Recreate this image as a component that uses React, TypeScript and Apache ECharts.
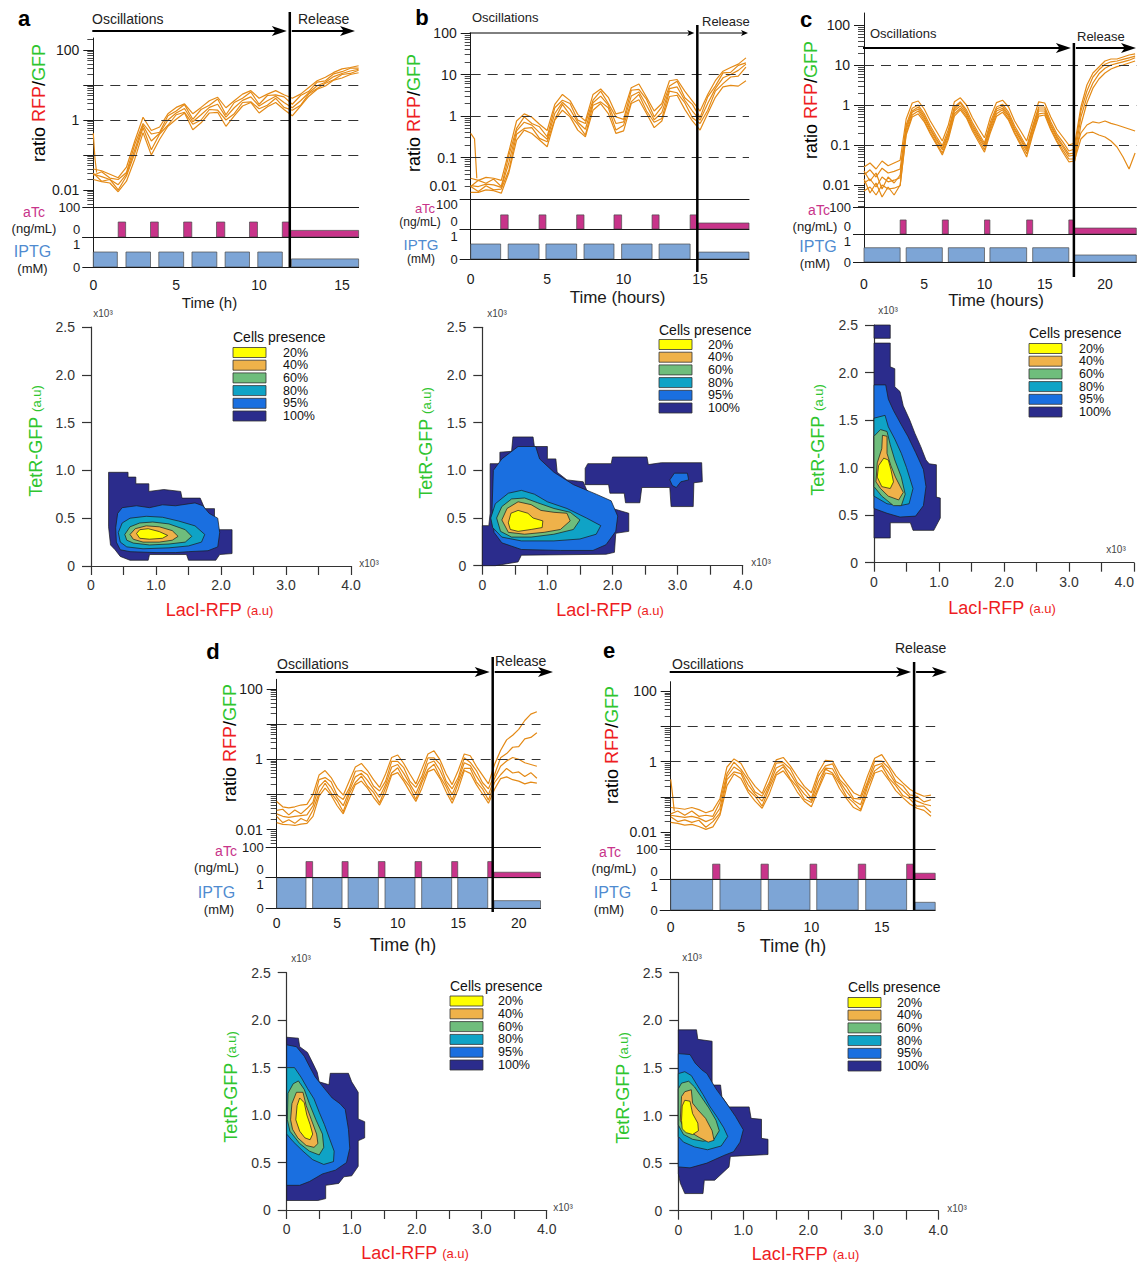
import React, { useEffect, useRef } from "react";
import * as echarts from "echarts";

const W = 1137;
const H = 1265;
const FONT = 'Arial, "Liberation Sans", Helvetica, sans-serif';
const ORANGE = "#e48a16";
const PINK = "#c8348a";
const BLUE_BAR = "#7da5d6";
const IPTG_TEXT = "#4f8bd0";
const RED = "#ee1d23";
const GREEN = "#2fc52f";
const INK = "#1a1a1a";
const GRAY = "#333333";

// ---------- shared axis values ----------
const TIMES = [0, 0.5, 1, 1.5, 2, 2.5, 3, 3.5, 4, 4.5, 5, 5.5, 6, 6.5, 7, 7.5, 8, 8.5, 9, 9.5, 10, 10.5, 11, 11.5, 12, 12.5, 13, 13.5, 14, 14.5, 15, 15.5, 16, 16.5, 17, 17.5, 18, 18.5, 19, 19.5, 20, 20.5, 21, 21.5, 22, 22.5];
const LOG_TEXT: Record<string, string> = { "-2": "0.01", "-1": "0.1", "0": "1", "1": "10", "2": "100" };
const LOG_LABELS_SPARSE = [-2, 0, 2];
const LOG_LABELS_FULL = [-2, -1, 0, 1, 2];
const LOG_MAJORS = [-2, -1, 0, 1, 2];
const DASHED_LEVELS = [-1, 0, 1];
const TIME_LABELS = [0, 5, 10, 15, 20];
const ATC_LABELS = [0, 100];
const IPTG_LABELS = [0, 1];
const CONTOUR_X_LABELS = [0, 1, 2, 3, 4];
const CONTOUR_Y_LABELS = [0, 0.5, 1, 1.5, 2, 2.5];
const LEVEL_NAMES = ["20%", "40%", "60%", "80%", "95%", "100%"];
const LEVEL_COLORS = ["#ffff00", "#efb24a", "#6fbd7c", "#0fa3c6", "#1a6fe0", "#2b2c8c"];

// ---------- panel a : log10(RFP/GFP) traces, one value per TIMES step ----------
const ratioA1 = [-1.40, -1.45, -1.55, -1.65, -1.35, -0.60, 0.08, -0.30, -0.20, 0.18, 0.36, 0.46, 0.18, 0.36, 0.55, 0.65, 0.35, 0.55, 0.74, 0.84, 0.62, 0.74, 0.84, 0.72, 0.62, 0.74, 0.93, 1.12, 1.22, 1.36, 1.46, 1.50, 1.55];
const ratioA2 = [-1.58, -1.48, -1.66, -1.70, -1.50, -0.70, -0.10, -0.40, -0.35, 0.12, 0.26, 0.44, 0.02, 0.30, 0.42, 0.60, 0.15, 0.50, 0.62, 0.80, 0.45, 0.70, 0.72, 0.66, 0.45, 0.70, 0.82, 1.08, 1.12, 1.32, 1.38, 1.48, 1.48];
const ratioA3 = [-1.55, -1.62, -1.70, -1.85, -1.55, -0.85, -0.15, -0.60, -0.38, 0.00, 0.20, 0.33, -0.05, 0.15, 0.36, 0.45, 0.08, 0.35, 0.56, 0.66, 0.40, 0.55, 0.68, 0.50, 0.35, 0.55, 0.78, 0.98, 1.08, 1.24, 1.33, 1.40, 1.45];
const ratioA4 = [-1.52, -1.75, -1.70, -2.00, -1.60, -0.95, -0.22, -0.85, -0.40, -0.15, 0.15, 0.22, -0.12, 0.00, 0.30, 0.28, 0.00, 0.18, 0.50, 0.52, 0.32, 0.42, 0.62, 0.36, 0.28, 0.42, 0.75, 0.90, 1.05, 1.15, 1.30, 1.33, 1.42];
const ratioA5 = [-1.70, -1.76, -1.80, -2.05, -1.75, -1.12, -0.36, -1.00, -0.55, -0.18, 0.02, 0.20, -0.28, -0.08, 0.20, 0.22, -0.18, 0.12, 0.40, 0.50, 0.20, 0.38, 0.50, 0.30, 0.12, 0.40, 0.68, 0.88, 0.97, 1.14, 1.20, 1.30, 1.35];
const spikeA = [[0, -0.38], [0.1, -1.1], [0.2, -1.5]];
const atcA = [[1.5, 1.95, 50], [3.45, 3.92, 50], [5.45, 5.94, 50], [7.43, 7.93, 50], [9.42, 9.9, 50], [11.4, 11.85, 50], [11.9, 16, 22]];
const iptgA = [[0, 1.45, 0.5], [1.97, 3.45, 0.5], [3.95, 5.45, 0.5], [5.95, 7.45, 0.5], [7.95, 9.42, 0.5], [9.92, 11.4, 0.5], [11.95, 16, 0.27]];

// ---------- panel b ----------
const ratioB1 = [-1.50, -1.55, -1.48, -1.50, -1.55, -0.85, -0.12, 0.05, -0.03, -0.20, -0.35, 0.28, 0.52, 0.37, 0.04, -0.12, 0.52, 0.65, 0.45, 0.05, 0.10, 0.68, 0.77, 0.45, 0.12, 0.30, 0.85, 0.88, 0.60, 0.36, 0.12, 0.52, 0.85, 1.08, 1.17, 1.25, 1.40];
const ratioB2 = [-1.70, -1.55, -1.62, -1.52, -1.70, -0.95, -0.30, -0.02, -0.18, -0.26, -0.50, 0.20, 0.38, 0.30, -0.10, -0.18, 0.38, 0.60, 0.30, -0.02, -0.08, 0.62, 0.64, 0.40, -0.02, 0.22, 0.72, 0.84, 0.44, 0.28, -0.04, 0.46, 0.72, 1.04, 1.05, 1.22, 1.28];
const ratioB3 = [-1.68, -1.70, -1.64, -1.66, -1.72, -1.12, -0.36, -0.15, -0.22, -0.40, -0.56, 0.06, 0.33, 0.16, -0.15, -0.32, 0.32, 0.48, 0.26, -0.18, -0.14, 0.48, 0.58, 0.26, -0.09, 0.08, 0.66, 0.70, 0.38, 0.12, -0.10, 0.30, 0.66, 0.92, 1.00, 1.10, 1.25];
const ratioB4 = [-1.70, -1.82, -1.68, -1.78, -1.76, -1.30, -0.44, -0.30, -0.28, -0.54, -0.62, -0.08, 0.28, 0.02, -0.20, -0.46, 0.26, 0.34, 0.20, -0.34, -0.22, 0.34, 0.52, 0.12, -0.15, -0.06, 0.60, 0.56, 0.32, -0.04, -0.18, 0.14, 0.60, 0.78, 0.94, 0.96, 1.18];
const ratioB5 = [-1.84, -1.84, -1.78, -1.80, -1.86, -1.36, -0.58, -0.34, -0.42, -0.58, -0.74, -0.10, 0.14, -0.02, -0.34, -0.50, 0.14, 0.30, 0.06, -0.42, -0.36, 0.30, 0.39, 0.06, -0.28, -0.12, 0.47, 0.50, 0.16, -0.12, -0.34, 0.06, 0.45, 0.70, 0.74, 0.72, 0.85];
const spikeB = [[0, -0.42], [0.25, -0.55], [0.4, -1.5]];
const atcB = [[1.96, 2.45, 47], [4.47, 4.92, 47], [6.93, 7.41, 47], [9.37, 9.87, 47], [11.86, 12.32, 47], [14.35, 14.8, 47], [14.88, 18.2, 20]];
const iptgB = [[0, 1.96, 0.5], [2.45, 4.47, 0.5], [4.92, 6.93, 0.5], [7.41, 9.37, 0.5], [9.87, 11.86, 0.5], [12.32, 14.35, 0.5], [14.9, 18.2, 0.23]];

// ---------- panel c ----------
const ratioC1 = [-1.55, -1.45, -1.60, -1.40, -1.52, -1.45, -1.38, -0.35, 0.05, 0.10, -0.10, -0.40, -0.65, -0.90, -0.50, 0.08, 0.18, 0.00, -0.32, -0.58, -0.82, -0.30, 0.06, 0.12, -0.05, -0.40, -0.65, -0.90, -0.40, 0.08, 0.05, -0.30, -0.60, -0.80, -1.00, -0.95, -0.05, 0.50, 0.80, 0.95, 1.10, 1.15, 1.15, 1.20, 1.25, 1.28];
const ratioC2 = [-1.75, -1.62, -1.80, -1.58, -1.70, -1.66, -1.60, -0.50, -0.08, 0.00, -0.22, -0.52, -0.78, -1.02, -0.62, -0.05, 0.08, -0.12, -0.44, -0.70, -0.95, -0.42, -0.05, 0.02, -0.18, -0.52, -0.78, -1.05, -0.52, -0.05, -0.05, -0.42, -0.72, -0.92, -1.15, -1.10, -0.15, 0.35, 0.70, 0.88, 1.02, 1.08, 1.10, 1.14, 1.18, 1.22];
const ratioC3 = [-1.95, -1.85, -2.05, -1.80, -1.92, -1.88, -1.82, -0.62, -0.18, -0.10, -0.32, -0.62, -0.88, -1.12, -0.74, -0.15, -0.02, -0.22, -0.55, -0.80, -1.05, -0.55, -0.15, -0.08, -0.28, -0.62, -0.88, -1.15, -0.62, -0.15, -0.15, -0.52, -0.82, -1.05, -1.28, -1.25, -0.30, 0.20, 0.55, 0.78, 0.92, 1.00, 1.04, 1.08, 1.12, 1.18];
const ratioC4 = [-2.15, -2.05, -2.25, -2.00, -2.10, -2.08, -2.02, -0.75, -0.30, -0.22, -0.42, -0.72, -0.98, -1.25, -0.86, -0.28, -0.12, -0.32, -0.65, -0.92, -1.18, -0.68, -0.28, -0.18, -0.38, -0.72, -1.00, -1.30, -0.75, -0.28, -0.25, -0.62, -0.92, -1.18, -1.42, -1.40, -0.50, 0.05, 0.42, 0.65, 0.80, 0.90, 0.96, 1.00, 1.05, 1.10];
const ratioC5 = [-1.65, -1.90, -1.70, -2.10, -1.80, -1.95, -1.75, -0.55, -0.15, -0.05, -0.28, -0.58, -0.84, -1.08, -0.70, -0.10, 0.05, -0.18, -0.50, -0.76, -1.00, -0.50, -0.10, -0.03, -0.24, -0.58, -0.84, -1.10, -0.58, -0.10, -0.10, -0.48, -0.78, -1.00, -1.22, -1.20, -0.70, -0.50, -0.42, -0.45, -0.40, -0.46, -0.50, -0.55, -0.60, -0.65];
const ratioC6 = [-1.85, -2.20, -1.95, -2.30, -2.05, -2.25, -2.00, -0.70, -0.25, -0.15, -0.38, -0.68, -0.94, -1.20, -0.80, -0.22, -0.08, -0.28, -0.60, -0.86, -1.12, -0.62, -0.22, -0.12, -0.34, -0.68, -0.95, -1.22, -0.70, -0.22, -0.20, -0.58, -0.88, -1.12, -1.35, -1.35, -0.85, -0.70, -0.68, -0.75, -0.80, -0.90, -1.05, -1.30, -1.60, -1.20];
const atcC = [[3.0, 3.5, 52], [6.5, 7.0, 52], [10.0, 10.45, 52], [13.5, 14.0, 52], [17.0, 17.4, 52], [17.45, 22.6, 22]];
const iptgC = [[0, 3.0, 0.51], [3.5, 6.5, 0.51], [7.0, 10.0, 0.51], [10.45, 13.5, 0.51], [14.0, 17.0, 0.51], [17.45, 22.6, 0.25]];

// ---------- panel d ----------
const ratioD1 = [-1.20, -1.35, -1.38, -1.35, -1.30, -1.28, -1.00, -0.45, -0.32, -0.52, -0.82, -1.02, -0.62, -0.22, -0.12, -0.32, -0.58, -0.80, -0.42, 0.05, 0.12, -0.12, -0.42, -0.70, -0.28, 0.15, 0.24, -0.02, -0.42, -0.72, -0.32, 0.15, 0.10, -0.20, -0.45, -0.70, -0.15, 0.25, 0.55, 0.68, 0.85, 1.10, 1.28, 1.35];
const ratioD2 = [-1.45, -1.42, -1.58, -1.44, -1.55, -1.40, -1.22, -0.58, -0.52, -0.64, -1.02, -1.14, -0.82, -0.34, -0.32, -0.44, -0.76, -0.90, -0.62, -0.06, -0.06, -0.24, -0.62, -0.80, -0.48, 0.04, 0.04, -0.14, -0.62, -0.84, -0.52, 0.04, -0.09, -0.32, -0.66, -0.84, -0.44, 0.04, 0.16, 0.34, 0.36, 0.58, 0.62, 0.75];
const ratioD3 = [-1.55, -1.62, -1.65, -1.62, -1.60, -1.58, -1.32, -0.78, -0.60, -0.80, -1.10, -1.32, -0.90, -0.50, -0.40, -0.60, -0.85, -1.08, -0.72, -0.22, -0.15, -0.40, -0.70, -0.98, -0.58, -0.12, -0.05, -0.32, -0.70, -1.00, -0.60, -0.10, -0.18, -0.48, -0.75, -1.00, -0.55, -0.20, -0.05, 0.05, 0.00, -0.10, -0.15, -0.20];
const ratioD4 = [-1.62, -1.80, -1.72, -1.82, -1.68, -1.76, -1.44, -0.96, -0.68, -0.96, -1.18, -1.49, -0.98, -0.66, -0.48, -0.76, -0.94, -1.24, -0.81, -0.39, -0.24, -0.56, -0.78, -1.14, -0.66, -0.29, -0.14, -0.49, -0.78, -1.16, -0.68, -0.26, -0.26, -0.64, -0.84, -1.16, -0.66, -0.44, -0.26, -0.39, -0.36, -0.49, -0.38, -0.54];
const ratioD5 = [-1.80, -1.85, -1.86, -1.88, -1.84, -1.82, -1.62, -1.05, -0.82, -1.02, -1.32, -1.55, -1.12, -0.72, -0.62, -0.82, -1.08, -1.30, -0.95, -0.45, -0.38, -0.62, -0.92, -1.20, -0.82, -0.35, -0.28, -0.55, -0.92, -1.25, -0.85, -0.32, -0.40, -0.72, -0.98, -1.25, -0.85, -0.55, -0.50, -0.58, -0.62, -0.70, -0.65, -0.68];
const atcD = [[2.42, 2.97, 53], [5.4, 5.9, 53], [8.4, 8.95, 53], [11.43, 11.98, 53], [14.46, 14.96, 53], [17.44, 17.85, 53], [17.95, 21.8, 18]];
const iptgD = [[0, 2.42, 1], [2.97, 5.4, 1], [5.9, 8.4, 1], [8.95, 11.43, 1], [11.98, 14.46, 1], [14.96, 17.44, 1], [17.95, 21.8, 0.25]];

// ---------- panel e ----------
const ratioE1 = [-1.30, -1.32, -1.35, -1.30, -1.36, -1.45, -1.38, -1.05, -0.15, 0.08, -0.05, -0.42, -0.70, -0.90, -0.42, 0.05, 0.12, -0.12, -0.42, -0.70, -0.88, -0.30, 0.04, 0.02, -0.35, -0.62, -0.88, -0.98, -0.40, 0.10, 0.20, -0.10, -0.40, -0.60, -0.78, -0.90, -0.98, -0.95];
const ratioE2 = [-1.48, -1.40, -1.52, -1.40, -1.55, -1.52, -1.55, -1.15, -0.34, -0.01, -0.22, -0.51, -0.86, -0.98, -0.60, -0.04, -0.02, -0.20, -0.59, -0.78, -1.04, -0.40, -0.12, -0.06, -0.50, -0.71, -1.04, -1.06, -0.56, 0.02, 0.02, -0.18, -0.56, -0.68, -0.94, -0.98, -1.14, -1.08];
const ratioE3 = [-1.52, -1.55, -1.58, -1.55, -1.60, -1.70, -1.62, -1.32, -0.42, -0.15, -0.28, -0.65, -0.92, -1.12, -0.68, -0.18, -0.08, -0.34, -0.66, -0.92, -1.10, -0.56, -0.18, -0.20, -0.56, -0.85, -1.10, -1.22, -0.62, -0.12, -0.05, -0.32, -0.62, -0.82, -1.00, -1.12, -1.20, -1.25];
const ratioE4 = [-1.56, -1.70, -1.65, -1.72, -1.66, -1.86, -1.70, -1.46, -0.51, -0.29, -0.34, -0.79, -0.98, -1.26, -0.76, -0.32, -0.14, -0.48, -0.72, -1.06, -1.16, -0.72, -0.21, -0.32, -0.62, -0.99, -1.16, -1.36, -0.70, -0.26, -0.11, -0.46, -0.68, -0.96, -1.06, -1.26, -1.26, -1.44];
const ratioE5 = [-1.72, -1.75, -1.80, -1.78, -1.84, -1.92, -1.85, -1.52, -0.68, -0.35, -0.48, -0.86, -1.12, -1.32, -0.92, -0.38, -0.26, -0.52, -0.86, -1.12, -1.28, -0.78, -0.32, -0.36, -0.76, -1.05, -1.30, -1.40, -0.86, -0.32, -0.25, -0.52, -0.82, -1.02, -1.20, -1.32, -1.38, -1.55];
const spikeE = [[0, -0.5], [0.12, -0.9], [0.25, -1.4]];
const atcE = [[2.98, 3.5, 50], [6.42, 6.94, 50], [9.9, 10.38, 50], [13.33, 13.86, 50], [16.77, 17.25, 50], [17.35, 18.8, 20]];
const iptgE = [[0, 2.98, 1], [3.5, 6.42, 1], [6.94, 9.9, 1], [10.38, 13.33, 1], [13.86, 16.77, 1], [17.35, 18.8, 0.25]];

// ---------- density contours (x10^3 a.u.), levels ordered 100%, 95%, 80%, 60%, 40%, 20% ----------
const contourA = [
  [[[0.27, 0.98], [0.57, 0.98], [0.57, 0.93], [0.69, 0.93], [0.69, 0.86], [0.89, 0.86], [0.89, 0.78], [1.12, 0.8], [1.38, 0.78], [1.4, 0.71], [1.68, 0.71], [1.75, 0.6], [1.9, 0.6], [1.9, 0.38], [2.17, 0.38], [2.17, 0.13], [1.98, 0.12], [1.92, 0.06], [1.5, 0.06], [1.47, 0.12], [0.9, 0.12], [0.88, 0.06], [0.6, 0.06], [0.45, 0.1], [0.37, 0.17], [0.3, 0.22], [0.27, 0.41]]],
  [[[0.38, 0.4], [0.41, 0.55], [0.48, 0.61], [0.7, 0.63], [0.9, 0.61], [1.1, 0.64], [1.3, 0.63], [1.6, 0.66], [1.72, 0.63], [1.82, 0.55], [1.95, 0.5], [1.98, 0.35], [1.95, 0.2], [1.8, 0.16], [1.5, 0.15], [1.3, 0.14], [1.0, 0.14], [0.6, 0.15], [0.45, 0.17], [0.39, 0.25]]],
  [[[0.42, 0.35], [0.48, 0.45], [0.6, 0.5], [0.85, 0.52], [1.1, 0.51], [1.35, 0.47], [1.6, 0.42], [1.75, 0.33], [1.7, 0.25], [1.5, 0.21], [1.2, 0.19], [0.8, 0.18], [0.55, 0.2], [0.45, 0.25]]],
  [[[0.52, 0.33], [0.6, 0.41], [0.75, 0.45], [0.95, 0.46], [1.2, 0.44], [1.45, 0.38], [1.55, 0.31], [1.45, 0.25], [1.2, 0.23], [0.9, 0.22], [0.65, 0.24], [0.55, 0.27]]],
  [[[0.6, 0.33], [0.68, 0.39], [0.85, 0.42], [1.05, 0.41], [1.25, 0.37], [1.34, 0.31], [1.25, 0.27], [1.05, 0.25], [0.8, 0.25], [0.65, 0.28]]],
  [[[0.7, 0.34], [0.75, 0.38], [0.88, 0.39], [1.05, 0.36], [1.18, 0.32], [1.1, 0.29], [0.9, 0.28], [0.75, 0.29]]],
];
const contourB = [
  [
    [[0, 0], [0, 0.42], [0.1, 0.42], [0.12, 0.55], [0.12, 1.07], [0.27, 1.07], [0.27, 1.19], [0.45, 1.2], [0.47, 1.35], [0.78, 1.35], [0.8, 1.25], [1.0, 1.25], [1.0, 1.12], [1.13, 1.12], [1.15, 0.98], [1.3, 0.9], [1.55, 0.88], [1.6, 0.8], [1.7, 0.72], [1.85, 0.65], [2.0, 0.6], [2.25, 0.55], [2.25, 0.36], [2.05, 0.34], [2.03, 0.14], [1.9, 0.12], [0.6, 0.11], [0.55, 0.04], [0.2, 0.0]],
    [[1.58, 0.85], [1.58, 1.02], [1.62, 1.07], [1.98, 1.07], [2.0, 1.14], [2.53, 1.14], [2.55, 1.06], [2.75, 1.08], [3.37, 1.08], [3.38, 0.88], [3.25, 0.87], [3.24, 0.62], [2.9, 0.62], [2.88, 0.82], [2.45, 0.82], [2.42, 0.66], [2.2, 0.66], [2.18, 0.76], [1.96, 0.76], [1.94, 0.85]],
  ],
  [
    [[0.15, 0.6], [0.17, 1.0], [0.3, 1.12], [0.55, 1.25], [0.82, 1.25], [0.88, 1.12], [1.1, 0.98], [1.4, 0.85], [1.75, 0.75], [1.98, 0.68], [2.08, 0.52], [2.05, 0.36], [1.9, 0.22], [1.7, 0.16], [1.2, 0.16], [0.6, 0.17], [0.3, 0.24], [0.18, 0.35]],
    [[2.88, 0.9], [2.95, 0.97], [3.15, 0.97], [3.17, 0.9], [3.05, 0.88], [2.98, 0.82], [2.92, 0.84]],
  ],
  [[[0.13, 0.5], [0.2, 0.65], [0.4, 0.76], [0.6, 0.79], [0.8, 0.75], [1.0, 0.67], [1.3, 0.6], [1.6, 0.5], [1.82, 0.42], [1.75, 0.33], [1.5, 0.28], [1.1, 0.26], [0.6, 0.26], [0.3, 0.3], [0.16, 0.4]]],
  [[[0.22, 0.5], [0.3, 0.62], [0.45, 0.7], [0.65, 0.71], [0.85, 0.66], [1.1, 0.6], [1.35, 0.56], [1.5, 0.48], [1.4, 0.38], [1.1, 0.33], [0.75, 0.3], [0.45, 0.3], [0.28, 0.36]]],
  [[[0.3, 0.48], [0.38, 0.6], [0.55, 0.67], [0.75, 0.64], [0.9, 0.58], [1.1, 0.56], [1.3, 0.55], [1.35, 0.47], [1.2, 0.38], [0.95, 0.35], [0.65, 0.33], [0.4, 0.35]]],
  [[[0.4, 0.45], [0.44, 0.55], [0.55, 0.58], [0.7, 0.55], [0.78, 0.5], [0.93, 0.47], [0.92, 0.4], [0.75, 0.38], [0.55, 0.36], [0.43, 0.38]]],
];
const contourC = [
  [
    [[0, 0.26], [0, 2.31], [0.25, 2.31], [0.25, 2.06], [0.32, 2.04], [0.32, 1.85], [0.4, 1.8], [0.45, 1.65], [0.55, 1.5], [0.63, 1.36], [0.72, 1.22], [0.8, 1.08], [0.85, 1.04], [0.96, 1.03], [0.96, 0.69], [1.02, 0.68], [1.02, 0.47], [0.92, 0.34], [0.6, 0.34], [0.56, 0.42], [0.25, 0.42], [0.25, 0.26]],
    [[0, 2.36], [0, 2.5], [0.25, 2.5], [0.25, 2.36]],
  ],
  [[[0, 0.57], [0, 1.87], [0.18, 1.87], [0.22, 1.72], [0.3, 1.6], [0.42, 1.45], [0.52, 1.33], [0.64, 1.16], [0.76, 0.98], [0.8, 0.8], [0.76, 0.6], [0.64, 0.49], [0.4, 0.48], [0.2, 0.52]]],
  [[[0, 0.7], [0, 1.52], [0.17, 1.55], [0.22, 1.43], [0.32, 1.3], [0.42, 1.15], [0.5, 1.0], [0.6, 0.78], [0.54, 0.62], [0.4, 0.6], [0.2, 0.62]]],
  [[[0, 0.8], [0, 1.33], [0.1, 1.4], [0.2, 1.38], [0.25, 1.24], [0.32, 1.08], [0.42, 0.9], [0.48, 0.72], [0.42, 0.6], [0.3, 0.6], [0.12, 0.7]]],
  [[[0.03, 0.85], [0.05, 1.05], [0.12, 1.2], [0.13, 1.34], [0.2, 1.33], [0.2, 1.15], [0.26, 1.02], [0.33, 0.9], [0.45, 0.74], [0.38, 0.66], [0.22, 0.7], [0.1, 0.78]]],
  [[[0.05, 0.9], [0.07, 1.02], [0.15, 1.1], [0.22, 1.08], [0.26, 0.98], [0.3, 0.85], [0.25, 0.78], [0.12, 0.8]]],
];
const contourD = [
  [[[0, 0.1], [0, 1.82], [0.18, 1.81], [0.2, 1.72], [0.32, 1.66], [0.4, 1.55], [0.47, 1.45], [0.5, 1.35], [0.65, 1.32], [0.67, 1.44], [0.95, 1.44], [1.0, 1.35], [1.1, 1.24], [1.1, 0.96], [1.2, 0.93], [1.2, 0.76], [1.1, 0.73], [1.1, 0.46], [1.0, 0.36], [0.88, 0.35], [0.8, 0.28], [0.6, 0.26], [0.6, 0.12], [0.48, 0.1]]],
  [[[0, 0.26], [0, 1.74], [0.15, 1.72], [0.27, 1.62], [0.36, 1.5], [0.44, 1.4], [0.58, 1.28], [0.7, 1.18], [0.82, 1.12], [0.9, 1.06], [0.95, 0.85], [0.97, 0.65], [0.92, 0.5], [0.75, 0.42], [0.55, 0.38], [0.35, 0.3], [0.2, 0.26]]],
  [[[0, 0.8], [0, 1.5], [0.12, 1.5], [0.22, 1.4], [0.32, 1.28], [0.42, 1.17], [0.5, 1.03], [0.58, 0.9], [0.66, 0.75], [0.73, 0.62], [0.72, 0.51], [0.57, 0.48], [0.4, 0.53], [0.25, 0.62], [0.1, 0.72]]],
  [[[0.01, 0.95], [0.02, 1.23], [0.1, 1.33], [0.18, 1.36], [0.27, 1.27], [0.35, 1.12], [0.45, 0.95], [0.55, 0.8], [0.57, 0.66], [0.5, 0.58], [0.35, 0.62], [0.2, 0.7], [0.05, 0.83]]],
  [[[0.06, 0.95], [0.08, 1.12], [0.15, 1.24], [0.25, 1.24], [0.3, 1.1], [0.38, 0.95], [0.46, 0.8], [0.48, 0.7], [0.42, 0.66], [0.3, 0.68], [0.17, 0.76], [0.09, 0.85]]],
  [[[0.14, 0.95], [0.16, 1.1], [0.2, 1.18], [0.27, 1.13], [0.31, 1.0], [0.36, 0.9], [0.4, 0.8], [0.36, 0.74], [0.28, 0.76], [0.2, 0.83]]],
];
const contourE = [
  [[[0, 0.39], [0, 1.9], [0.28, 1.9], [0.3, 1.8], [0.52, 1.78], [0.52, 1.32], [0.65, 1.32], [0.67, 1.2], [0.78, 1.09], [1.09, 1.09], [1.12, 0.97], [1.28, 0.96], [1.28, 0.76], [1.38, 0.75], [1.38, 0.59], [0.8, 0.57], [0.78, 0.46], [0.56, 0.32], [0.4, 0.32], [0.38, 0.18], [0.1, 0.18], [0.03, 0.29]]],
  [[[0, 0.46], [0, 1.65], [0.18, 1.64], [0.26, 1.55], [0.36, 1.48], [0.44, 1.44], [0.58, 1.28], [0.74, 1.13], [0.88, 0.99], [1.0, 0.85], [0.95, 0.72], [0.85, 0.62], [0.7, 0.58], [0.44, 0.5], [0.18, 0.45]]],
  [[[0, 0.78], [0, 1.44], [0.1, 1.46], [0.2, 1.42], [0.28, 1.33], [0.38, 1.22], [0.48, 1.1], [0.6, 0.98], [0.7, 0.87], [0.76, 0.78], [0.66, 0.68], [0.45, 0.64], [0.25, 0.67], [0.08, 0.72]]],
  [[[0, 0.9], [0, 1.28], [0.05, 1.34], [0.16, 1.36], [0.25, 1.3], [0.35, 1.2], [0.47, 1.08], [0.58, 0.95], [0.63, 0.84], [0.55, 0.75], [0.38, 0.73], [0.22, 0.75], [0.08, 0.8]]],
  [[[0.03, 0.95], [0.05, 1.2], [0.1, 1.25], [0.2, 1.27], [0.22, 1.13], [0.3, 1.06], [0.42, 0.97], [0.52, 0.84], [0.55, 0.74], [0.46, 0.72], [0.32, 0.77], [0.2, 0.82], [0.08, 0.88]]],
  [[[0.05, 0.95], [0.06, 1.1], [0.1, 1.16], [0.18, 1.15], [0.22, 1.02], [0.3, 0.92], [0.31, 0.84], [0.22, 0.8], [0.12, 0.82], [0.06, 0.86]]],
];

// ---------- layout (pixels) ----------
// strip: [x, y, fontSize] for aTc, (ng/mL), IPTG, (mM)
const PANELS: any[] = [
  {
    letter: "a", letterXY: [24, 18], left: 93.3, right: 358.6, rows: [38, 207, 237, 267],
    logMin: -2.486, logMax: 2.343, logLabels: LOG_LABELS_SPARSE, lowLift: 0, atcTopDown: 0, tMax: 16, tRelease: 11.85,
    traces: [ratioA1, ratioA2, ratioA3, ratioA4, ratioA5], spike: spikeA, atc: atcA, iptg: iptgA,
    timeMargin: 11, timeTitle: "Time (h)", timeTitleXY: [209.5, 302], timeTitleSize: 15,
    ratioTitleXY: [39, 103],
    strip: { atc: [34, 212, 14], ng: [34, 228, 13], iptg: [32.5, 251, 16], mm: [32.5, 268, 13] },
    osc: [92, 19, 14], rel: [298, 19, 14], arrowY: 31, arrowW: 2, head: [15, 5], relEnd: 355, relLine: [12, 267],
    contour: { left: 91, right: 351, top: 327, bottom: 566 }, polys: contourA, alignMax: null,
    legend: { boxX: 233, rowY: 352.5, dy: 12.7, textX: 283, titleY: 337 },
    x10Top: [103, 313], x10Right: [369, 563], lacXY: [219.5, 610], tetXY: [36, 441],
  },
  {
    letter: "b", letterXY: [422, 17], left: 470.7, right: 749.0, rows: [33, 199, 229, 259],
    logMin: -2.0, logMax: 2.0, logLabels: LOG_LABELS_FULL, lowLift: 13, atcTopDown: 10, tMax: 18.2, tRelease: 14.82,
    traces: [ratioB1, ratioB2, ratioB3, ratioB4, ratioB5], spike: spikeB, atc: atcB, iptg: iptgB,
    timeMargin: 13, timeTitle: "Time (hours)", timeTitleXY: [617.5, 297], timeTitleSize: 17,
    ratioTitleXY: [414, 113],
    strip: { atc: [425, 208, 13], ng: [420, 222, 12], iptg: [421, 244, 15], mm: [421, 259, 12] },
    osc: [472, 17, 13], rel: [702, 21, 13], arrowY: 33, arrowW: 1, head: [7, 3], relEnd: 748, relLine: [25, 272],
    contour: { left: 482.3, right: 742.7, top: 327.3, bottom: 565.7 }, polys: contourB, alignMax: null,
    legend: { boxX: 659, rowY: 344.5, dy: 12.7, textX: 708, titleY: 330 },
    x10Top: [497, 313], x10Right: [761, 562], lacXY: [610, 610], tetXY: [426, 443],
  },
  {
    letter: "c", letterXY: [806, 19], left: 864, right: 1136.3, rows: [13, 207, 234, 262],
    logMin: -2.55, logMax: 2.3, logLabels: LOG_LABELS_FULL, lowLift: 0, atcTopDown: 0, tMax: 22.6, tRelease: 17.42,
    traces: [ratioC1, ratioC2, ratioC3, ratioC4, ratioC5, ratioC6], spike: null, atc: atcC, iptg: iptgC,
    timeMargin: 15, timeTitle: "Time (hours)", timeTitleXY: [996, 300], timeTitleSize: 17,
    ratioTitleXY: [811, 100],
    strip: { atc: [819, 210, 14], ng: [815, 226, 13], iptg: [818, 246, 16], mm: [815, 263, 13] },
    osc: [870, 33, 13], rel: [1077, 36, 13], arrowY: 48, arrowW: 2, head: [15, 5], relEnd: 1136, relLine: [43, 277],
    contour: { left: 874, right: 1134, top: 325, bottom: 562.7 }, polys: contourC, alignMax: "right",
    legend: { boxX: 1029, rowY: 348.5, dy: 12.7, textX: 1079, titleY: 333 },
    x10Top: [888, 310], x10Right: [1116, 549], lacXY: [1002, 608], tetXY: [818, 440],
  },
  {
    letter: "d", letterXY: [213, 651], left: 276.7, right: 540.5, rows: [679.3, 847.3, 877.7, 908.3],
    logMin: -2.5, logMax: 2.27, logLabels: LOG_LABELS_SPARSE, lowLift: 0, atcTopDown: 0, tMax: 21.8, tRelease: 17.85,
    traces: [ratioD1, ratioD2, ratioD3, ratioD4, ratioD5], spike: null, atc: atcD, iptg: iptgD,
    timeMargin: 8, timeTitle: "Time (h)", timeTitleXY: [403, 945], timeTitleSize: 18,
    ratioTitleXY: [229.5, 743],
    strip: { atc: [226, 851, 14], ng: [216.5, 867, 13], iptg: [216.5, 892, 16], mm: [219, 909, 13] },
    osc: [277, 664, 14], rel: [495, 661, 14], arrowY: 672, arrowW: 2, head: [15, 5], relEnd: 553, relLine: [657, 912],
    contour: { left: 286.7, right: 546.7, top: 972.7, bottom: 1210 }, polys: contourD, alignMax: null,
    legend: { boxX: 450, rowY: 1001, dy: 12.8, textX: 498, titleY: 986 },
    x10Top: [301, 958], x10Right: [563, 1207], lacXY: [415, 1253], tetXY: [231, 1087],
  },
  {
    letter: "e", letterXY: [609, 650], left: 670.7, right: 935.2, rows: [681.7, 849, 879.3, 910],
    logMin: -2.477, logMax: 2.27, logLabels: LOG_LABELS_SPARSE, lowLift: 0, atcTopDown: 0, tMax: 18.8, tRelease: 17.3,
    traces: [ratioE1, ratioE2, ratioE3, ratioE4, ratioE5], spike: spikeE, atc: atcE, iptg: iptgE,
    timeMargin: 10, timeTitle: "Time (h)", timeTitleXY: [793, 946], timeTitleSize: 18,
    ratioTitleXY: [612, 745],
    strip: { atc: [610, 852, 14], ng: [614, 868, 13], iptg: [612.5, 892, 16], mm: [609, 909, 13] },
    osc: [672, 664, 14], rel: [895, 648, 14], arrowY: 672, arrowW: 2, head: [15, 5], relEnd: 947, relLine: [662, 910],
    contour: { left: 678.3, right: 938.3, top: 972.7, bottom: 1210.7 }, polys: contourE, alignMax: null,
    legend: { boxX: 848, rowY: 1002.5, dy: 12.7, textX: 897, titleY: 987 },
    x10Top: [692, 957], x10Right: [957, 1208], lacXY: [805.5, 1254], tetXY: [623, 1088],
  },
];

function minorLogTicks(lo: number, hi: number) {
  const out: number[] = [];
  for (let n = -3; n <= 2; n++) {
    for (let k = 2; k <= 9; k++) {
      const v = n + Math.log10(k);
      if (v >= lo && v <= hi) out.push(v);
    }
  }
  return out;
}

const axisLineStyle = { color: INK, width: 1 };

function barRender(fill: string) {
  return (params: any, api: any) => {
    const a = api.coord([api.value(0), api.value(2)]);
    const b = api.coord([api.value(1), 0]);
    return {
      type: "rect",
      shape: { x: a[0], y: a[1], width: b[0] - a[0], height: b[1] - a[1] },
      style: { fill, stroke: "#4a4a4a", lineWidth: 0.7 },
    };
  };
}

function buildOption() {
  const grid: any[] = [];
  const xAxis: any[] = [];
  const yAxis: any[] = [];
  const series: any[] = [];
  const ratioGrids: number[] = [];

  PANELS.forEach((p) => {
    const [r0, r1, r2, r3] = p.rows;
    const mk = (top: number, bottom: number, left = p.left, right = p.right) =>
      grid.push({ left, top, width: right - left, height: bottom - top, outerBoundsMode: "none", containLabel: false }) - 1;
    const gR = mk(r0, r1);
    const gA = mk(r1, r2);
    const gI = mk(r2, r3);
    ratioGrids.push(gR);

    const xR = xAxis.push({ gridIndex: gR, type: "value", min: 0, max: p.tMax, show: false }) - 1;
    const stripX = (g: number, position: string) => ({
      gridIndex: g, type: "value", min: 0, max: p.tMax, position, z: 5,
      axisLine: { show: true, onZero: false, lineStyle: axisLineStyle },
      axisTick: { show: false }, axisLabel: { show: false }, splitLine: { show: false },
    });
    const xA = xAxis.push(stripX(gA, "bottom")) - 1;
    xAxis.push(stripX(gA, "top"));
    const xI = xAxis.push({
      ...stripX(gI, "bottom"),
      axisLabel: {
        show: true, customValues: TIME_LABELS.filter((v) => v <= p.tMax),
        formatter: (v: number) => String(v), fontSize: 14, color: INK, fontFamily: FONT, margin: p.timeMargin,
      },
    }) - 1;

    const majors = LOG_MAJORS.filter((v) => v >= p.logMin - 1e-6 && v <= p.logMax + 1e-6);
    const yR = yAxis.push({
      gridIndex: gR, type: "value", min: p.logMin, max: p.logMax, position: "left",
      axisLine: { show: true, onZero: false, lineStyle: axisLineStyle },
      axisTick: { show: true, customValues: majors, length: 10, lineStyle: axisLineStyle },
      axisLabel: {
        show: true, customValues: p.logLabels, fontSize: 14, color: INK, fontFamily: FONT, margin: 14,
        formatter: (v: number) => {
          const key = String(Math.round(v));
          const s = LOG_TEXT[key];
          if (p.lowLift && key === "-2") return `{lo|${s}}`;
          return s;
        },
        rich: { lo: { fontSize: 14, color: INK, fontFamily: FONT, padding: [0, 0, p.lowLift * 2, 0] } },
      },
      splitLine: { show: false },
    }) - 1;
    yAxis.push({
      gridIndex: gR, type: "value", min: p.logMin, max: p.logMax, position: "left",
      axisLine: { show: false }, axisLabel: { show: false }, splitLine: { show: false },
      axisTick: { show: true, customValues: minorLogTicks(p.logMin, p.logMax), length: 6, lineStyle: { color: INK, width: 0.8 } },
    });
    const yA = yAxis.push({
      gridIndex: gA, type: "value", min: 0, max: 100, position: "left",
      axisLine: { show: true, onZero: false, lineStyle: axisLineStyle },
      axisTick: { show: true, customValues: ATC_LABELS, length: 11, lineStyle: axisLineStyle },
      axisLabel: {
        show: true, customValues: ATC_LABELS, fontSize: 13, color: INK, fontFamily: FONT, margin: 13,
        formatter: (v: number) => (v === 0 ? "{up|0}" : p.atcTopDown ? "{dn|100}" : "100"),
        rich: {
          up: { fontSize: 13, color: INK, fontFamily: FONT, padding: [0, 0, 16, 0] },
          dn: { fontSize: 13, color: INK, fontFamily: FONT, padding: [p.atcTopDown, 0, 0, 0] },
        },
      },
      splitLine: { show: false },
    }) - 1;
    const yI = yAxis.push({
      gridIndex: gI, type: "value", min: 0, max: 1, position: "left",
      axisLine: { show: true, onZero: false, lineStyle: axisLineStyle },
      axisTick: { show: true, customValues: IPTG_LABELS, length: 11, lineStyle: axisLineStyle },
      axisLabel: {
        show: true, customValues: IPTG_LABELS, fontSize: 13, color: INK, fontFamily: FONT, margin: 13,
        formatter: (v: number) => (v === 1 ? "{dn|1}" : "0"),
        rich: { dn: { fontSize: 13, color: INK, fontFamily: FONT, padding: [14, 0, 0, 0] } },
      },
      splitLine: { show: false },
    }) - 1;

    p.traces.forEach((tr: number[], i: number) => {
      const s: any = {
        type: "line", xAxisIndex: xR, yAxisIndex: yR, silent: true, z: 3,
        data: tr.map((v, j) => [TIMES[j], v]), symbol: "none", showSymbol: false,
        lineStyle: { color: ORANGE, width: 1.2 },
      };
      if (i === p.traces.length - 1) {
        s.markLine = {
          silent: true, symbol: ["none", "none"], label: { show: false }, emphasis: { disabled: true },
          lineStyle: { type: [10, 7], color: "#333", width: 1 },
          data: DASHED_LEVELS.map((v) => ({ yAxis: v })),
        };
      }
      series.push(s);
    });
    if (p.spike) {
      series.push({
        type: "line", xAxisIndex: xR, yAxisIndex: yR, silent: true, z: 3, data: p.spike,
        symbol: "none", showSymbol: false, lineStyle: { color: ORANGE, width: 1.2 },
      });
    }
    series.push({
      type: "custom", xAxisIndex: xA, yAxisIndex: yA, data: p.atc, encode: { x: [0, 1], y: 2 },
      renderItem: barRender(PINK), silent: true, z: 2,
    });
    series.push({
      type: "custom", xAxisIndex: xI, yAxisIndex: yI, data: p.iptg, encode: { x: [0, 1], y: 2 },
      renderItem: barRender(BLUE_BAR), silent: true, z: 2,
    });

    // contour plot
    const c = p.contour;
    const gC = mk(c.top, c.bottom, c.left, c.right);
    const xLabel: any = {
      show: true, customValues: CONTOUR_X_LABELS, fontSize: 14, color: GRAY, fontFamily: FONT, margin: 12,
      formatter: (v: number) => (v === 0 ? "0" : v.toFixed(1)),
    };
    if (p.alignMax) xLabel.alignMaxLabel = p.alignMax;
    const xC = xAxis.push({
      gridIndex: gC, type: "value", min: 0, max: 4, interval: 0.5, position: "bottom",
      axisLine: { show: true, onZero: false, lineStyle: { color: GRAY, width: 1.2 } },
      axisTick: { show: true, length: 9, lineStyle: { color: GRAY, width: 1.2 } },
      axisLabel: xLabel,
      splitLine: { show: false },
    }) - 1;
    const yC = yAxis.push({
      gridIndex: gC, type: "value", min: 0, max: 2.5, interval: 0.5, position: "left",
      axisLine: { show: true, onZero: false, lineStyle: { color: GRAY, width: 1.2 } },
      axisTick: { show: true, length: 9, lineStyle: { color: GRAY, width: 1.2 } },
      axisLabel: {
        show: true, customValues: CONTOUR_Y_LABELS, fontSize: 14, color: GRAY, fontFamily: FONT, margin: 16,
        formatter: (v: number) => (v === 0 ? "0" : v.toFixed(1)),
      },
      splitLine: { show: false },
    }) - 1;
    const items: any[] = [];
    p.polys.forEach((level: number[][][], k: number) =>
      level.forEach((pts) => items.push({ pts, color: LEVEL_COLORS[5 - k] }))
    );
    series.push({
      type: "custom", xAxisIndex: xC, yAxisIndex: yC, silent: true, z: 2, clip: false,
      data: items.map((it) => it.pts[0]),
      renderItem: (params: any, api: any) => {
        const it = items[params.dataIndex];
        return {
          type: "polygon",
          shape: { points: it.pts.map((pt: number[]) => api.coord(pt)) },
          style: { fill: it.color, stroke: "#1a1a1a", lineWidth: 0.7 },
        };
      },
    });
  });

  return {
    option: { animation: false, backgroundColor: "#ffffff", grid, xAxis, yAxis, series },
    ratioGrids,
  };
}

function txt(x: number, y: number, text: string, size: number, fill: string, align = "center", extra: any = {}) {
  return {
    type: "text", x, y, silent: true, z: 50,
    style: {
      text, fontSize: size, fontFamily: FONT, fill, align, textAlign: align,
      verticalAlign: "middle", textVerticalAlign: "middle", ...extra,
    },
  };
}

function arrow(x1: number, x2: number, y: number, w: number, head: number[]) {
  const [hl, hw] = head;
  return [
    { type: "line", silent: true, z: 60, shape: { x1, y1: y, x2: x2 - hl * 0.7, y2: y }, style: { stroke: "#000", lineWidth: w } },
    {
      type: "polygon", silent: true, z: 60,
      shape: { points: [[x2, y], [x2 - hl, y - hw], [x2 - hl * 0.75, y], [x2 - hl, y + hw]] },
      style: { fill: "#000" },
    },
  ];
}

function buildGraphic(chart: any, ratioGrids: number[]) {
  const els: any[] = [];
  PANELS.forEach((p, idx) => {
    const g = ratioGrids[idx];
    const xRel = chart.convertToPixel({ gridIndex: g }, [p.tRelease, 0])[0];
    const x0 = chart.convertToPixel({ gridIndex: g }, [0, 0])[0];

    els.push(txt(p.letterXY[0], p.letterXY[1], p.letter, 22, "#000", "center", { fontWeight: "bold" }));
    els.push({
      type: "text", x: p.ratioTitleXY[0], y: p.ratioTitleXY[1], rotation: Math.PI / 2, silent: true, z: 50,
      style: {
        text: "{k|ratio }{r|RFP}{k|/}{g|GFP}", align: "center", textAlign: "center",
        verticalAlign: "middle", textVerticalAlign: "middle", fontSize: 18, fontFamily: FONT,
        rich: {
          k: { fill: "#000", color: "#000", fontSize: 18, fontFamily: FONT },
          r: { fill: RED, color: RED, fontSize: 18, fontFamily: FONT },
          g: { fill: GREEN, color: GREEN, fontSize: 18, fontFamily: FONT },
        },
      },
    });
    const s = p.strip;
    els.push(txt(s.atc[0], s.atc[1], "aTc", s.atc[2], PINK));
    els.push(txt(s.ng[0], s.ng[1], "(ng/mL)", s.ng[2], INK));
    els.push(txt(s.iptg[0], s.iptg[1], "IPTG", s.iptg[2], IPTG_TEXT));
    els.push(txt(s.mm[0], s.mm[1], "(mM)", s.mm[2], INK));
    els.push(txt(p.osc[0], p.osc[1], "Oscillations", p.osc[2], "#222", "left"));
    els.push(txt(p.rel[0], p.rel[1], "Release", p.rel[2], "#222", "left"));
    els.push(...arrow(x0 - 1, xRel - 3, p.arrowY, p.arrowW, p.head));
    els.push(...arrow(xRel + 2, p.relEnd, p.arrowY, p.arrowW, p.head));
    els.push({
      type: "line", silent: true, z: 70,
      shape: { x1: xRel, y1: p.relLine[0], x2: xRel, y2: p.relLine[1] },
      style: { stroke: "#000", lineWidth: 2.5 },
    });
    els.push(txt(p.timeTitleXY[0], p.timeTitleXY[1], p.timeTitle, p.timeTitleSize, INK));

    // contour decorations
    els.push(txt(p.x10Top[0], p.x10Top[1], "x10³", 10, "#444"));
    els.push(txt(p.x10Right[0], p.x10Right[1], "x10³", 10, "#444"));
    els.push({
      type: "text", x: p.lacXY[0], y: p.lacXY[1], silent: true, z: 50,
      style: {
        text: "{m|LacI-RFP }{s|(a.u)}", align: "center", textAlign: "center",
        verticalAlign: "middle", textVerticalAlign: "middle", fontFamily: FONT,
        rich: {
          m: { fill: RED, color: RED, fontSize: 18, fontFamily: FONT },
          s: { fill: RED, color: RED, fontSize: 13, fontFamily: FONT },
        },
      },
    });
    els.push({
      type: "text", x: p.tetXY[0], y: p.tetXY[1], rotation: Math.PI / 2, silent: true, z: 50,
      style: {
        text: "{m|TetR-GFP }{s|(a.u)}", align: "center", textAlign: "center",
        verticalAlign: "middle", textVerticalAlign: "middle", fontFamily: FONT,
        rich: {
          m: { fill: GREEN, color: GREEN, fontSize: 18, fontFamily: FONT },
          s: { fill: GREEN, color: GREEN, fontSize: 13, fontFamily: FONT },
        },
      },
    });
    const L = p.legend;
    els.push(txt(L.boxX, L.titleY, "Cells presence", 14, "#111", "left"));
    LEVEL_NAMES.forEach((name, i) => {
      const cy = L.rowY + i * L.dy;
      els.push({
        type: "rect", silent: true, z: 50,
        shape: { x: L.boxX, y: cy - 5, width: 33, height: 10 },
        style: { fill: LEVEL_COLORS[i], stroke: "#333", lineWidth: 0.8 },
      });
      els.push(txt(L.textX, cy, name, 12.5, "#111", "left"));
    });
  });
  return els;
}

export default function App() {
  const ref = useRef<HTMLDivElement>(null);
  useEffect(() => {
    document.body.style.margin = "0";
    const chart = echarts.init(ref.current as HTMLDivElement, null, { renderer: "svg", width: W, height: H });
    const { option, ratioGrids } = buildOption();
    chart.setOption(option as any);
    chart.setOption({ graphic: buildGraphic(chart, ratioGrids) } as any);
    return () => chart.dispose();
  }, []);
  return <div ref={ref} style={{ width: W, height: H, background: "#fff" }} />;
}
